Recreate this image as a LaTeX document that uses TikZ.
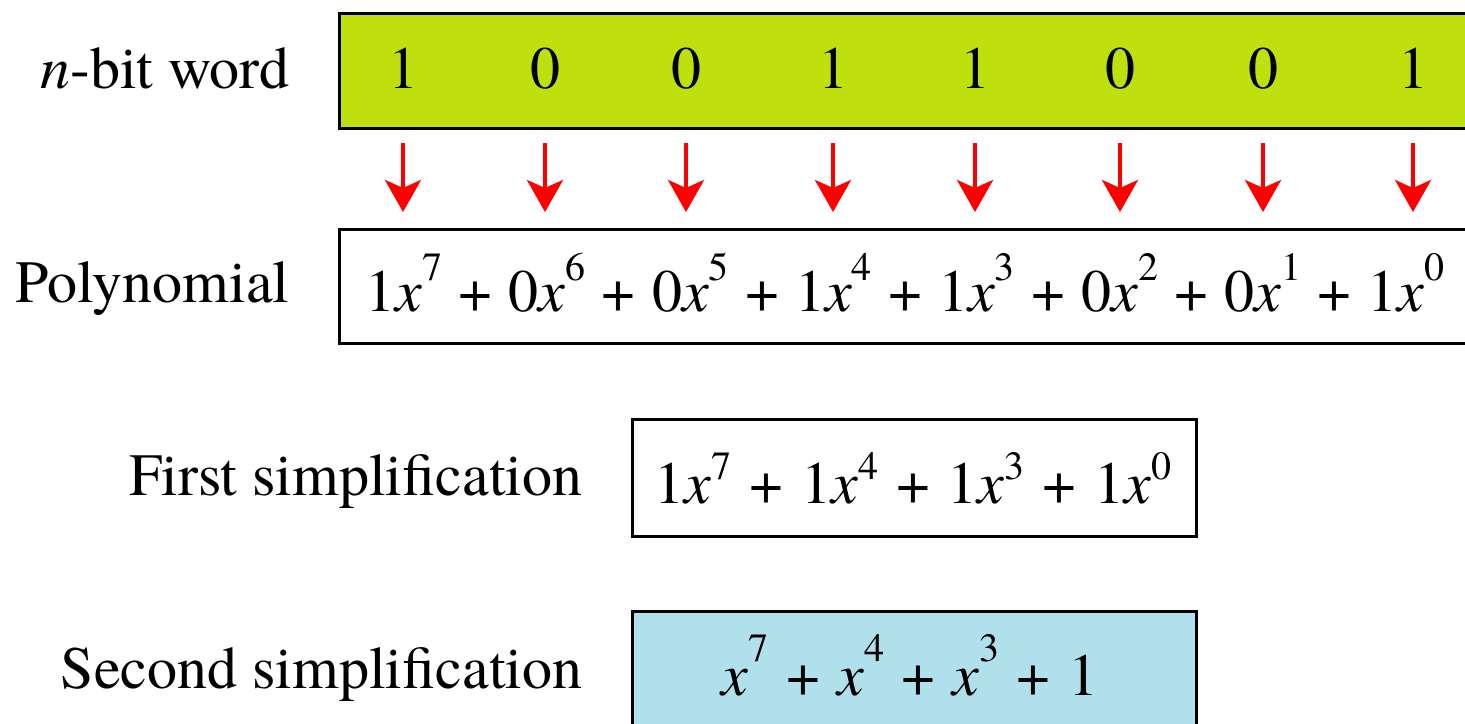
\documentclass[tikz,border=0pt]{standalone}
\usepackage{fontspec}
\setmainfont{TeX Gyre Termes}
\usetikzlibrary{arrows.meta}
\definecolor{bitgreen}{RGB}{192,224,14}
\definecolor{paleblue}{RGB}{176,224,236}
\newlength\suplift
\newlength\plgap
\newcommand{\xp}[1]{\textit{x}\raisebox{\suplift}{\fontsize{20}{20}\selectfont #1}}
\newcommand{\pl}{\hspace{\plgap}+\hspace{\plgap}}
\begin{document}
\begin{tikzpicture}[x=0.5pt,y=-0.5pt,
  font=\fontsize{30}{36}\selectfont,
  box/.style={draw=black,line width=1.6pt,anchor=north west,inner sep=0pt},
  lbl/.style={anchor=base east,inner sep=0pt},
  txt/.style={anchor=base,inner sep=0pt},
  bitarrow/.style={draw=red,line width=2pt,-{Stealth[length=16pt,width=18pt,inset=4pt]}}]
\useasboundingbox (0,0) rectangle (1465,723);
\begin{scope}
\clip (0,0) rectangle (1465,723);
% boxes
\node[box,fill=bitgreen,minimum width=571pt,minimum height=57.5pt] (word) at (338,12) {};
\node[box,fill=white,minimum width=571pt,minimum height=57pt] (poly) at (338,228) {};
\node[box,fill=white,minimum width=282pt,minimum height=58.5pt] (first) at (631,418) {};
\node[box,fill=paleblue,minimum width=282pt,minimum height=70pt] (second) at (631,610) {};
\end{scope}
% labels
\node[lbl] (lword) at (290,88) {\textit{n}-bit word};
\node[lbl] (lpoly) at (290,302) {Polynomial};
\node[lbl] (lfirst) at (583,495) {First simplification};
\node[lbl] (lsecond) at (583,688) {Second simplification};
% bits and arrows
\foreach \b/\v [count=\i] in {403/1,545/0,686/0,833/1,975/1,1120/0,1263/0,1413/1}{
  \node[txt] (b\i) at (\b,88) {\v};
  \coordinate (s\i) at (\b,143);
  \coordinate (e\i) at (\b,212);
  \draw[bitarrow] (s\i) -- (e\i);
}
% formulas
\node[txt] (tpoly) at (905,311) {\setlength\suplift{15.5pt}\setlength\plgap{0.27em}%
  1\xp{7}\pl0\xp{6}\pl0\xp{5}\pl1\xp{4}\pl1\xp{3}\pl0\xp{2}\pl0\xp{1}\pl1\xp{0}};
\node[txt] (tfirst) at (913,503) {\setlength\suplift{12pt}\setlength\plgap{0.30em}%
  1\xp{7}\pl1\xp{4}\pl1\xp{3}\pl1\xp{0}};
\node[txt] (tsecond) at (910,695) {\setlength\suplift{17pt}\setlength\plgap{0.29em}%
  \xp{7}\pl\xp{4}\pl\xp{3}\pl1};
\end{tikzpicture}
\end{document}
